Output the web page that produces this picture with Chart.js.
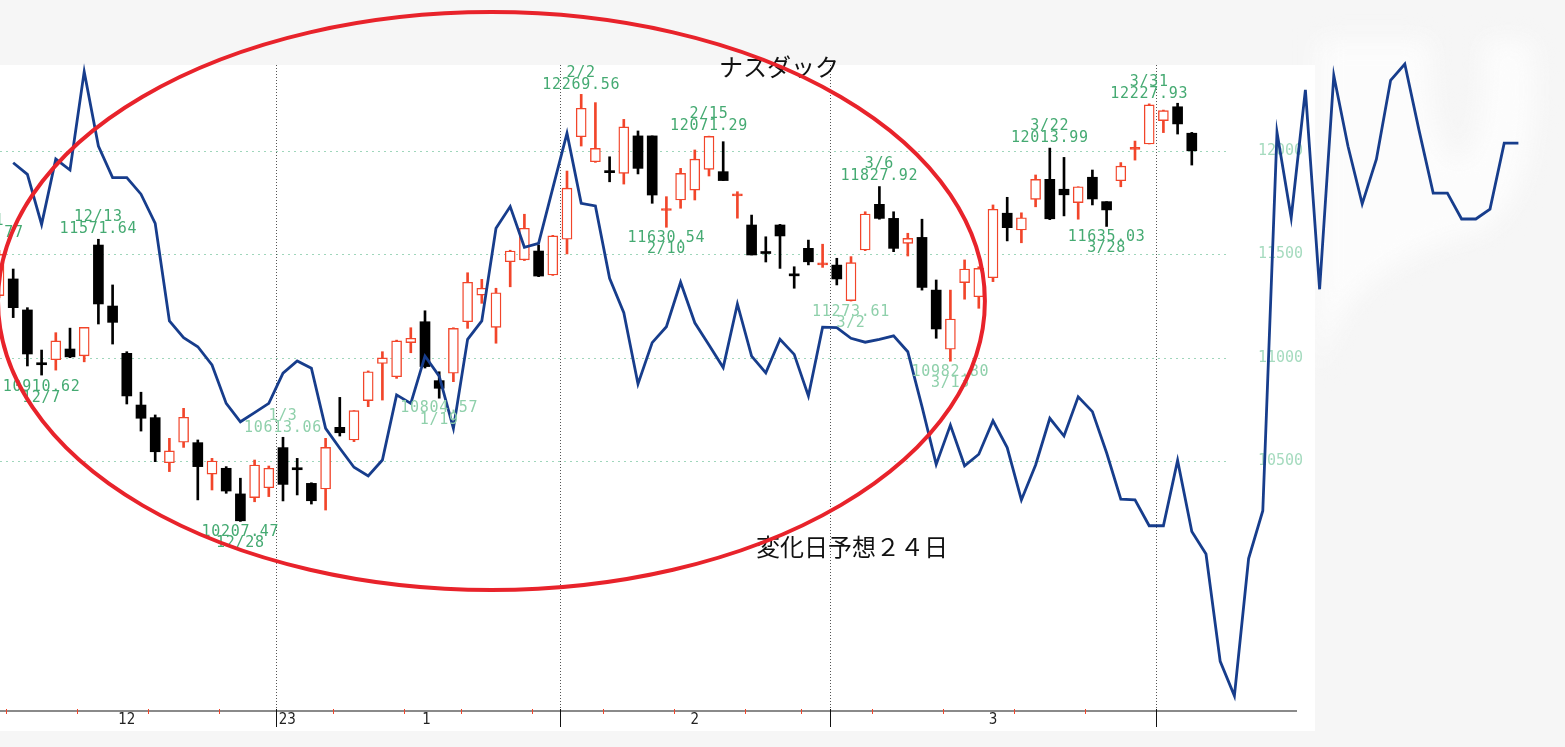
<!DOCTYPE html>
<html>
<head>
<meta charset="utf-8">
<title>ナスダック</title>
<script src="https://cdn.jsdelivr.net/npm/chart.js@4.4.0/dist/chart.umd.min.js"></script>
<style>
  html, body { margin: 0; padding: 0; background: #f6f6f6; }
  #chartContainer { width: 1565px; height: 747px; }
</style>
</head>
<body>
<div id="chartContainer"><canvas id="chartData" width="1565" height="747"></canvas></div>
<script>
// daily candles, 2022/12/2 .. 2023/4/5
const dates = ['12/2','12/5','12/6','12/7','12/8','12/9','12/12','12/13','12/14','12/15','12/16','12/19','12/20','12/21','12/22','12/23','12/27','12/28','12/29','12/30',
  '1/3','1/4','1/5','1/6','1/9','1/10','1/11','1/12','1/13','1/17','1/18','1/19','1/20','1/23','1/24','1/25','1/26','1/27','1/30','1/31',
  '2/1','2/2','2/3','2/6','2/7','2/8','2/9','2/10','2/13','2/14','2/15','2/16','2/17','2/21','2/22','2/23','2/24','2/27','2/28',
  '3/1','3/2','3/3','3/6','3/7','3/8','3/9','3/10','3/13','3/14','3/15','3/16','3/17','3/20','3/21','3/22','3/23','3/24','3/27','3/28','3/29','3/30','3/31',
  '4/3','4/4','4/5'];

const openP = [11300,11381,11231,10975,10990,11042,11009,11545,11250,11021,10771,10710,10492,10591,10589,10437,10465,10341,10323,10371,
  10565,10466,10392,10365,10663,10602,10792,10972,10908,11073,11174,10889,10925,11174,11303,11147,11464,11473,11516,11400,
  11573,12069,11948,11905,11892,12073,12073,11712,11763,11811,11911,11900,11783,11642,11512,11642,11404,11529,11449,
  11448,11276,11521,11742,11674,11553,11582,11327,11041,11363,11295,11387,11699,11618,11766,11863,11815,11750,11873,11755,11856,12008,12034,
  12147,12214,12086];

const highP = [11520,11429,11242,11037,11121,11143,11147,11573,11352,11029,10833,10723,10610,10755,10602,10513,10473,10417,10505,10476,
  10615,10513,10395,10610,10808,10744,10936,11029,11085,11145,11227,10932,11145,11411,11379,11336,11520,11694,11545,11592,
  11903,12274,12234,11972,12153,12097,12073,11779,11916,12005,12072,12045,11803,11690,11585,11645,11440,11569,11549,
  11481,11489,11706,11828,11706,11602,11670,11376,11327,11473,11440,11739,11776,11701,11884,12014,11969,11827,11908,11755,11944,12048,12228,
  12198,12231,12090];

const lowP = [11290,11194,10960,10916,10940,11000,10980,11163,11066,10776,10645,10497,10449,10566,10312,10360,10344,10208,10303,10328,
  10307,10336,10292,10263,10621,10594,10763,10795,10900,11024,10950,10804,10884,11142,11263,11070,11343,11470,11392,11398,
  11502,12024,11945,11851,11840,11889,11747,11631,11723,11763,11879,11857,11675,11497,11463,11432,11336,11449,11437,
  11352,11274,11518,11670,11513,11492,11327,11094,10983,11283,11239,11368,11565,11556,11730,11668,11686,11670,11739,11635,11827,11956,12034,
  12089,12082,11932];

const closeP = [11500,11242,11018,10966,11081,11004,11147,11260,11171,10815,10707,10545,10549,10712,10473,10500,10355,10211,10481,10465,
  10387,10458,10308,10566,10637,10744,10932,10999,11081,11094,10957,10852,11142,11365,11336,11314,11516,11626,11395,11589,
  11820,12207,12013,11895,12117,11916,11787,11721,11892,11961,12071,11857,11791,11497,11504,11589,11396,11464,11457,
  11381,11460,11695,11674,11529,11577,11340,11139,11187,11429,11432,11718,11629,11677,11863,11672,11788,11827,11768,11715,11927,12016,12223,
  12195,12131,12001];

// forecast line, one point per trading day starting at 12/5 (index 1)
const forecast = [11943,11887,11645,11961,11908,12384,12024,11871,11871,11791,
  11650,11178,11097,11053,10965,10779,10690,10734,10779,10925,
  10984,10949,10658,10562,10470,10428,10505,10820,10779,11008,
  10911,10658,11089,11178,11626,11731,11534,11553,11820,12086,
  11747,11734,11384,11218,10873,11073,11150,11365,11169,11061,
  10952,11260,11008,10927,11089,11016,10815,11148,11146,11094,
  11075,11089,11106,11029,10763,10484,10674,10477,10533,10695,
  10565,10312,10481,10707,10621,10811,10739,10540,10316,10312,
  10187,10187,10503,10159,10050,9531,9364,10028,10260,12090,
  11677,12296,11331,12365,12023,11744,11960,12342,12421,12101,
  11796,11796,11671,11671,11719,12038,12038];

// swing high / low notes
const markIdx = [-1, 3, 7, 17, 20, 31, 41, 47, 50, 60, 62, 67, 74, 78, 81];
const markDate = ['12/1','12/7','12/13','12/28','1/3','1/19','2/2','2/10','2/15','3/2','3/6','3/13','3/22','3/28','3/31'];
const markValue = ['11554.77','10910.62','11571.64','10207.47','10613.06','10804.57','12269.56','11630.54','12071.29','11273.61','11827.92','10982.80','12013.99','11635.03','12227.93'];
const markSide = ['high','low','high','low','high','low','high','low','high','low','high','low','high','low','high'];

const priceTicks = [12000, 11500, 11000, 10500];
const monthBreaks = [19.5, 39.5, 58.5, 81.5];
const weekBreaks = [0.5, 5.5, 10.5, 15.5, 23.5, 28.5, 32.5, 37.5, 42.5, 47.5, 52.5, 56.5, 61.5, 66.5, 71.5, 76.5];
const monthLabels = ['12', '23', '1', '2', '3'];
const monthLabelPos = [9, 20.3, 30.1, 49, 70];

const RED = '#f2452a';
const MONO = '"DejaVu Sans Mono", monospace';
const lightMarks = ['1/3', '1/19', '3/2', '3/13'];

const isUp = i => closeP[i] >= openP[i];

const paper = {
  id: 'paper',
  beforeDraw(chart) {
    const { ctx, width, height } = chart;
    ctx.save();
    ctx.fillStyle = '#f6f6f6';
    ctx.fillRect(0, 0, width, height);
    // pale smear on the right
    ctx.filter = 'blur(12px)';
    ctx.fillStyle = '#fcfcfc';
    ctx.beginPath();
    ctx.moveTo(1318, 40);
    ctx.lineTo(1430, 40);
    ctx.quadraticCurveTo(1428, 150, 1460, 162);
    ctx.quadraticCurveTo(1486, 150, 1484, 40);
    ctx.lineTo(1532, 40);
    ctx.quadraticCurveTo(1546, 195, 1480, 232);
    ctx.quadraticCurveTo(1400, 252, 1360, 292);
    ctx.quadraticCurveTo(1326, 330, 1318, 382);
    ctx.closePath();
    ctx.fill();
    ctx.filter = 'none';
    ctx.fillStyle = '#ffffff';
    ctx.fillRect(0, 65, 1315, 666);
    ctx.restore();
  },
  beforeDatasetsDraw(chart) {
    const { ctx } = chart;
    const xs = chart.scales.x, ys = chart.scales.y;
    ctx.save();
    // price grid
    ctx.strokeStyle = '#9fd6bb';
    ctx.lineWidth = 1;
    ctx.setLineDash([2, 4]);
    priceTicks.forEach(v => {
      const y = Math.round(ys.getPixelForValue(v)) + 0.5;
      ctx.beginPath();
      ctx.moveTo(0, y);
      ctx.lineTo(1228, y);
      ctx.stroke();
    });
    // month grid
    ctx.strokeStyle = '#555';
    ctx.setLineDash([1, 2]);
    monthBreaks.forEach(m => {
      const x = Math.round(xs.getPixelForValue(m)) + 0.5;
      ctx.beginPath();
      ctx.moveTo(x, 65);
      ctx.lineTo(x, 711);
      ctx.stroke();
    });
    ctx.setLineDash([]);

    // right price labels
    ctx.font = '15px ' + MONO;
    ctx.fillStyle = '#a6dbbf';
    ctx.textAlign = 'left';
    ctx.textBaseline = 'middle';
    priceTicks.forEach(v => ctx.fillText(String(v), 1258, ys.getPixelForValue(v)));

    // time axis
    const axisY = 711;
    ctx.strokeStyle = '#8a8a8a';
    ctx.lineWidth = 2;
    ctx.beginPath();
    ctx.moveTo(0, axisY);
    ctx.lineTo(1297, axisY);
    ctx.stroke();
    ctx.strokeStyle = RED;
    ctx.lineWidth = 1;
    weekBreaks.forEach(w => {
      const x = Math.round(xs.getPixelForValue(w)) + 0.5;
      ctx.beginPath();
      ctx.moveTo(x, axisY - 2);
      ctx.lineTo(x, axisY + 3);
      ctx.stroke();
    });
    ctx.strokeStyle = '#111';
    monthBreaks.forEach(m => {
      const x = Math.round(xs.getPixelForValue(m)) + 0.5;
      ctx.beginPath();
      ctx.moveTo(x, axisY - 2);
      ctx.lineTo(x, axisY + 16);
      ctx.stroke();
    });
    ctx.font = '15px "Liberation Sans Narrow", "DejaVu Sans Condensed", sans-serif';
    ctx.fillStyle = '#222';
    ctx.textAlign = 'center';
    monthLabels.forEach((t, k) => ctx.fillText(t, xs.getPixelForValue(monthLabelPos[k]), axisY + 9));
    ctx.restore();
  },
  afterDatasetsDraw(chart) {
    const { ctx } = chart;
    const xs = chart.scales.x, ys = chart.scales.y;
    ctx.save();
    // swing notes
    ctx.font = '15px ' + MONO;
    ctx.letterSpacing = '0.7px';
    ctx.textAlign = 'center';
    ctx.textBaseline = 'middle';
    markIdx.forEach((idx, k) => {
      const cx = xs.getPixelForValue(idx);
      const y0 = ys.getPixelForValue(parseFloat(markValue[k]));
      ctx.fillStyle = lightMarks.includes(markDate[k]) ? '#8fd0ab' : '#45aa72';
      if (markSide[k] === 'high') {
        ctx.fillText(markDate[k], cx, y0 - 22);
        ctx.fillText(markValue[k], cx, y0 - 10);
      } else {
        ctx.fillText(markValue[k], cx, y0 + 10.5);
        ctx.fillText(markDate[k], cx, y0 + 22);
      }
    });
    ctx.letterSpacing = '0px';

    // captions
    ctx.fillStyle = '#111';
    ctx.font = '24px "Noto Sans CJK JP", sans-serif';
    ctx.fillText('ナスダック', 779, 67);
    ctx.fillText('変化日予想２４日', 852, 547);

    // red ring around Dec..mid-Mar
    const cx = xs.getPixelForValue(34.68), cy = ys.getPixelForValue(11274);
    const rx = xs.getPixelForValue(34.68 + 34.75) - cx;
    const ry = ys.getPixelForValue(11274 - 1398) - cy;
    ctx.strokeStyle = '#e8232b';
    ctx.lineWidth = 4;
    ctx.beginPath();
    ctx.ellipse(cx, cy, rx, ry, 0, 0, Math.PI * 2);
    ctx.stroke();
    ctx.restore();
  }
};

const ctx = document.getElementById('chartData').getContext('2d');
new Chart(ctx, {
  type: 'bar',
  data: {
    datasets: [
      {
        type: 'line',
        label: '変化日予想',
        data: forecast.map((v, k) => ({ x: k + 1, y: v })),
        borderColor: '#173d8c',
        borderWidth: 2.8,
        pointRadius: 0,
        tension: 0,
        order: 0,
      },
      {
        label: 'body',
        data: dates.map((d, i) => ({ x: i, y: [openP[i], closeP[i]] })),
        backgroundColor: c => {
          const i = c.dataIndex;
          if (!isUp(i)) return '#000';
          return Math.abs(closeP[i] - openP[i]) < 12 ? RED : '#fff';
        },
        borderColor: c => (isUp(c.dataIndex) ? RED : '#000'),
        borderWidth: c => (isUp(c.dataIndex) ? 1.4 : 0),
        borderSkipped: false,
        barThickness: 10,
        minBarLength: 2,
        grouped: false,
        order: 1,
      },
      {
        label: 'wick',
        data: dates.map((d, i) => ({ x: i, y: [lowP[i], highP[i]] })),
        backgroundColor: c => (isUp(c.dataIndex) ? RED : '#000'),
        borderWidth: 0,
        barThickness: 2,
        grouped: false,
        order: 2,
      },
    ],
  },
  options: {
    responsive: false,
    animation: false,
    layout: { padding: 0 },
    plugins: { legend: { display: false }, tooltip: { enabled: false } },
    scales: {
      x: { type: 'linear', min: 1 / 14.2, max: 1566 / 14.2, display: false, offset: false },
      y: { min: 9116.6, max: 12730.5, display: false },
    },
  },
  plugins: [paper],
});
</script>
</body>
</html>
